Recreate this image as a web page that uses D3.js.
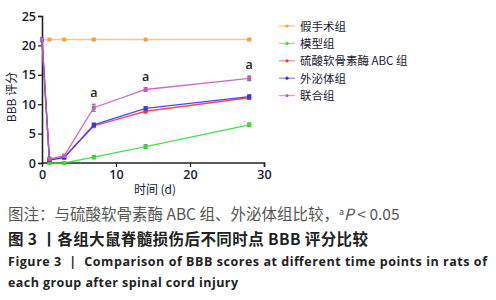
<!DOCTYPE html>
<html>
<head>
<meta charset="utf-8">
<script src="https://cdn.jsdelivr.net/npm/d3@7"></script>
<style>
body { margin: 0; background: #fff; }
text { font-family: "Noto Sans CJK SC", "Open Sans", sans-serif; }
</style>
</head>
<body>
<svg class="chart"></svg>
<script>
const days = [0, 1, 3, 7, 14, 28];
const groupNames = ['假手术组', '模型组', '硫酸软骨素酶 ABC 组', '外泌体组', '联合组'];
const groupColors = ['#ff9a3c', '#33dd33', '#ff3333', '#3333ff', '#cc55cc'];
const shamScores = [21, 21, 21, 21, 21, 21];
const modelScores = [21, 0, 0, 1.0, 2.8, 6.5];
const chabcScores = [21, 0.5, 1.0, 6.3, 8.8, 11.1];
const exoScores = [21, 0.5, 0.9, 6.5, 9.3, 11.3];
const comboScores = [21, 0.7, 1.2, 9.4, 12.5, 14.4];
const comboErr = [0, 0.3, 0.3, 0.6, 0.3, 0.4];
const otherErr = [0, 0.2, 0.2, 0.3, 0.3, 0.3];
const sigDays = [7, 14, 28];
const xTicks = [0, 10, 20, 30];
const yTicks = [0, 5, 10, 15, 20, 25];

const series = [shamScores, modelScores, chabcScores, exoScores, comboScores];
const errs = [[0, 0, 0, 0, 0, 0], otherErr, otherErr, otherErr, comboErr];

const svg = d3.select('.chart')
	.attr('width', 496)
	.attr('height', 300);

const xScale = d3.scaleLinear().domain([0, 30]).range([42, 264]);
const yScale = d3.scaleLinear().domain([0, 25]).range([163, 16]);

const g = svg.append('g');

const xAxis = d3.axisBottom(xScale).tickValues(xTicks).tickSize(4).tickPadding(3);
const xAxisG = g.append('g').attr('transform', 'translate(0,163)').call(xAxis);
const yAxis = d3.axisLeft(yScale).tickValues(yTicks).tickSize(4).tickPadding(2);
const yAxisG = g.append('g').attr('transform', 'translate(42,0)').call(yAxis);

[xAxisG, yAxisG].forEach(a => {
	a.select('.domain').attr('stroke', '#222').attr('stroke-width', 1.6);
	a.selectAll('.tick line').attr('stroke', '#222').attr('stroke-width', 1.3);
	a.selectAll('.tick text')
		.attr('fill', '#1a1a33')
		.style('font-family', '"Open Sans", sans-serif')
		.style('font-size', '12.5px')
		.style('font-weight', '600');
});
xAxisG.select('.domain').attr('d', 'M42.5,0H264.5V4');

g.append('text')
	.attr('transform', 'translate(16,97) rotate(-90)')
	.attr('text-anchor', 'middle')
	.attr('fill', '#1a1a33')
	.style('font-size', '12px')
	.text('BBB 评分');

g.append('text')
	.attr('x', 155).attr('y', 194)
	.attr('text-anchor', 'middle')
	.attr('fill', '#1a1a33')
	.style('font-size', '12px')
	.text('时间 (d)');

const line = d3.line()
	.x((d, i) => xScale(days[i]))
	.y(d => yScale(d));

series.forEach((vals, k) => {
	const col = groupColors[k];
	g.append('path')
		.attr('d', line(vals))
		.attr('fill', 'none')
		.attr('stroke', col)
		.attr('stroke-width', k == 0 ? 1.6 : 1.3)
		.attr('stroke-opacity', k == 0 ? 0.6 : 0.9);

	g.selectAll(null).data(vals).enter().append('path')
		.attr('d', (d, i) => {
			const x = xScale(days[i]), e = errs[k][i];
			return `M${x},${yScale(d + e)}V${yScale(d - e)}M${x - 2},${yScale(d + e)}h4M${x - 2},${yScale(d - e)}h4`;
		})
		.attr('stroke', '#444')
		.attr('stroke-width', 0.8)
		.attr('fill', 'none')
		.attr('opacity', (d, i) => errs[k][i] > 0 ? 1 : 0);

	g.selectAll(null).data(vals).enter().append('rect')
		.attr('x', (d, i) => xScale(days[i]) - 2)
		.attr('y', d => yScale(d) - 2)
		.attr('width', 4).attr('height', 4)
		.attr('fill', col);
});

g.selectAll('.sig').data(sigDays).enter().append('text')
	.attr('class', 'sig')
	.attr('x', d => xScale(d))
	.attr('y', d => {
		const i = days.indexOf(d);
		return yScale(comboScores[i] + comboErr[i]) - 7;
	})
	.attr('text-anchor', 'middle')
	.attr('fill', '#222')
	.style('font-family', '"Open Sans", sans-serif')
	.style('font-size', '12.5px')
	.style('font-weight', '600')
	.text('a');

const legend = g.selectAll('.leg').data(groupNames).enter().append('g')
	.attr('transform', (d, i) => `translate(279,${26 + i * 17.4})`);
legend.append('line')
	.attr('x1', 0).attr('x2', 16)
	.attr('stroke', (d, i) => groupColors[i])
	.attr('stroke-opacity', 0.6)
	.attr('stroke-width', 1.2);
legend.append('circle')
	.attr('cx', 8).attr('r', 1.6)
	.attr('fill', (d, i) => groupColors[i]);
legend.append('text')
	.attr('x', 21).attr('y', 4.5)
	.attr('fill', '#1a1a33')
	.style('font-size', '11.5px')
	.text(d => d);

const cap = svg.append('g');
const note = cap.append('text').attr('x', 8).attr('y', 220)
	.attr('fill', '#555').style('font-size', '15.5px');
note.append('tspan').text('图注：与硫酸软骨素酶 ABC 组、外泌体组比较，');
note.append('tspan').attr('dy', -5).style('font-size', '9px').text('a');
note.append('tspan').attr('dy', 5).style('font-style', 'italic').text('P');
note.append('tspan').text(' < 0.05');

cap.append('text').attr('x', 8).attr('y', 245)
	.attr('fill', '#222').style('font-size', '15.5px').style('font-weight', 'bold')
	.attr('textLength', 360)
	.text('图 3 丨各组大鼠脊髓损伤后不同时点 BBB 评分比较');

cap.selectAll('.en').data([
	'Figure 3 \u00a0|\u00a0 Comparison of BBB scores at different time points in rats of',
	'each group after spinal cord injury'
]).enter().append('text')
	.attr('x', 8).attr('y', (d, i) => 266 + i * 21)
	.attr('fill', '#222')
	.style('font-family', '"Open Sans", sans-serif')
	.style('font-size', '12.5px').style('font-weight', 'bold')
	.attr('textLength', (d, i) => i == 0 ? 479 : 230)
	.text(d => d);
</script>
</body>
</html>
